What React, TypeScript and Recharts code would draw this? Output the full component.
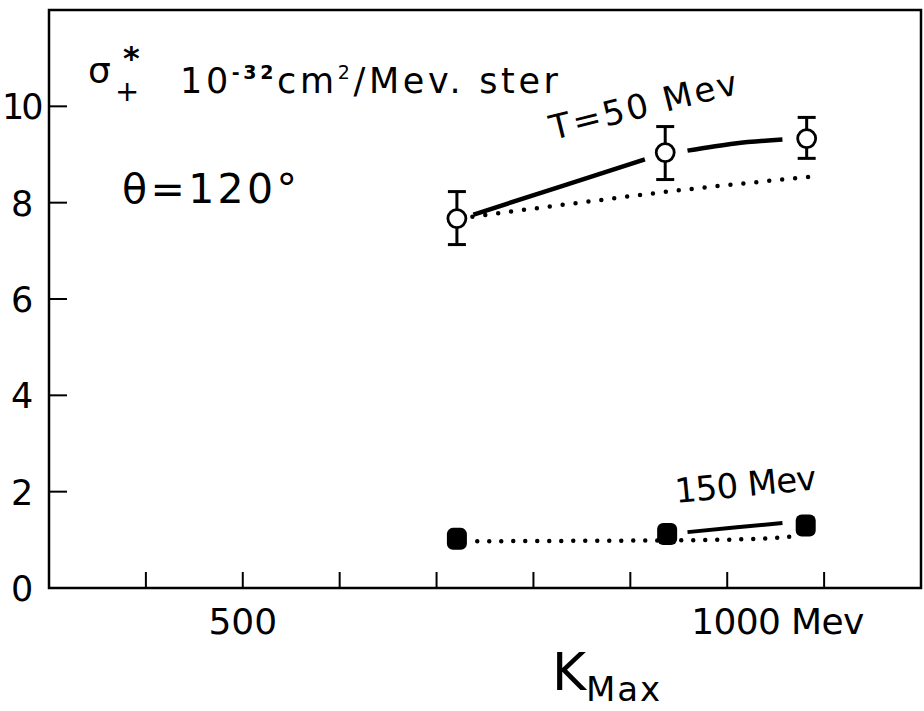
import {
  ComposedChart,
  Customized,
  ErrorBar,
  Line,
  ReferenceArea,
  Scatter,
  XAxis,
  YAxis,
} from "recharts";

// K_max (MeV) / sigma (10^-32 cm^2/MeV ster)
const OPEN_K = [721, 936, 1082];
const OPEN_SIGMA = [7.67, 9.04, 9.33];
const OPEN_ERR_DOWN = [0.54, 0.56, 0.41];
const OPEN_ERR_UP = [0.56, 0.54, 0.44];

const FILLED_K = [721, 938, 1081];
const FILLED_SIGMA = [1.02, 1.12, 1.3];

// T = 50 MeV curves
const T50_SOLID_A_K = [738, 827, 915];
const T50_SOLID_A_SIGMA = [7.75, 8.33, 8.9];
const T50_SOLID_B_K = [959, 1008, 1057];
const T50_SOLID_B_SIGMA = [9.08, 9.23, 9.31];
const T50_DOTTED_K = [737, 840, 939, 1088];
const T50_DOTTED_SIGMA = [7.71, 7.98, 8.23, 8.54];

// T = 150 MeV curves
const T150_DOTTED_K = [742, 850, 950, 1030, 1075];
const T150_DOTTED_SIGMA = [0.97, 0.98, 0.99, 1.02, 1.08];
const T150_SOLID_K = [959, 1010, 1057];
const T150_SOLID_SIGMA = [1.16, 1.26, 1.35];

const X_TICKS = [400, 500, 600, 700, 800, 900, 1000, 1100];
const X_LABELS: Record<number, string> = { 500: "500", 1000: "1000 Mev" };
const Y_TICKS = [0, 2, 4, 6, 8, 10];

const FONT = "'DejaVu Sans', sans-serif";
const INK = "#000";

const toPoints = (ks: number[], ss: number[]) =>
  ks.map((k, i) => ({ k, s: ss[i] }));

const openPoints = OPEN_K.map((k, i) => ({
  k,
  s: OPEN_SIGMA[i],
  err: [OPEN_ERR_DOWN[i], OPEN_ERR_UP[i]],
}));
const filledPoints = toPoints(FILLED_K, FILLED_SIGMA);

function OpenCircle({ cx, cy }: { cx?: number; cy?: number }) {
  if (cx === undefined || cy === undefined) return null;
  return <circle cx={cx} cy={cy} r={9} fill="#fff" stroke={INK} strokeWidth={2.8} />;
}

function FilledDot({ cx, cy }: { cx?: number; cy?: number }) {
  if (cx === undefined || cy === undefined) return null;
  return <rect x={cx - 10} y={cy - 11} width={20} height={22} rx={6} fill={INK} />;
}

function XTick({ x, y, payload }: any) {
  const label = X_LABELS[payload?.value];
  return (
    <g>
      <line x1={x} y1={y} x2={x} y2={y - 16} stroke={INK} strokeWidth={2} />
      {label === "500" ? (
        <text x={x} y={y + 46} textAnchor="middle" fontSize={36} fontFamily={FONT} fill={INK}>
          {label}
        </text>
      ) : null}
      {label === "1000 Mev" ? (
        <text
          x={x - 36}
          y={y + 46}
          fontSize={36}
          fontFamily={FONT}
          fill={INK}
          textLength={173}
          lengthAdjust="spacing"
        >
          {label}
        </text>
      ) : null}
    </g>
  );
}

function YTick({ x, y, payload }: any) {
  const label = String(payload?.value);
  const wide = label.length > 1;
  return (
    <g>
      <line x1={x} y1={y} x2={x + 18} y2={y} stroke={INK} strokeWidth={2} />
      <text
        x={wide ? 2 : 11}
        y={y + 13}
        fontSize={35}
        fontFamily={FONT}
        fill={INK}
        letterSpacing={wide ? -3 : 0}
      >
        {label}
      </text>
    </g>
  );
}

function Annotations() {
  return (
    <g fill={INK} fontFamily={FONT}>
      <text x={88} y={83} fontSize={36}>σ</text>
      <text x={123} y={69} fontSize={32} fontWeight={700}>*</text>
      <text x={115} y={101} fontSize={29}>+</text>
      <text x={180} y={93} fontSize={35} textLength={378} lengthAdjust="spacing">
        10
        <tspan fontSize={19} fontWeight={700} dy={-14}>-32</tspan>
        <tspan dy={14}>cm</tspan>
        <tspan fontSize={19} dy={-14}>2</tspan>
        <tspan dy={14}>/Mev. ster</tspan>
      </text>
      <text x={122} y={203} fontSize={41} textLength={175} lengthAdjust="spacing">
        θ=120°
      </text>
      <text
        x={553}
        y={140}
        fontSize={34}
        transform="rotate(-14 553 140)"
        textLength={192}
        lengthAdjust="spacing"
      >
        T=50 Mev
      </text>
      <text
        x={676}
        y={503}
        fontSize={34}
        transform="rotate(-5.5 676 503)"
        textLength={142}
        lengthAdjust="spacing"
      >
        150 Mev
      </text>
      <text x={552} y={690} fontSize={52}>K</text>
      <text x={586} y={701} fontSize={34} textLength={74} lengthAdjust="spacing">
        Max
      </text>
    </g>
  );
}

export default function App() {
  return (
    <div
      style={{
        position: "absolute",
        left: 0,
        top: 0,
        width: 924,
        height: 711,
        background: "#fff",
      }}
    >
      <ComposedChart
        width={924}
        height={711}
        margin={{ top: 10, right: 3, left: 0, bottom: 0 }}
      >
        <XAxis
          dataKey="k"
          type="number"
          domain={[300, 1200]}
          ticks={X_TICKS}
          allowDataOverflow
          axisLine={false}
          tickLine={false}
          tickSize={0}
          tickMargin={0}
          height={123}
          interval={0}
          tick={<XTick />}
        />
        <YAxis
          type="number"
          domain={[0, 12]}
          ticks={Y_TICKS}
          allowDataOverflow
          axisLine={false}
          tickLine={false}
          tickSize={0}
          tickMargin={0}
          width={49}
          interval={0}
          tick={<YTick />}
        />
        <ReferenceArea
          x1={300}
          x2={1200}
          y1={0}
          y2={12}
          fill="none"
          fillOpacity={0}
          stroke={INK}
          strokeWidth={2.5}
        />
        <Line
          data={toPoints(T50_DOTTED_K, T50_DOTTED_SIGMA)}
          dataKey="s"
          type="monotone"
          stroke={INK}
          strokeWidth={4.5}
          strokeDasharray="0 13"
          strokeLinecap="round"
          dot={false}
          activeDot={false}
          isAnimationActive={false}
        />
        <Line
          data={toPoints(T50_SOLID_A_K, T50_SOLID_A_SIGMA)}
          dataKey="s"
          type="monotone"
          stroke={INK}
          strokeWidth={4.5}
          dot={false}
          activeDot={false}
          isAnimationActive={false}
        />
        <Line
          data={toPoints(T50_SOLID_B_K, T50_SOLID_B_SIGMA)}
          dataKey="s"
          type="monotone"
          stroke={INK}
          strokeWidth={4.5}
          dot={false}
          activeDot={false}
          isAnimationActive={false}
        />
        <Line
          data={toPoints(T150_DOTTED_K, T150_DOTTED_SIGMA)}
          dataKey="s"
          type="monotone"
          stroke={INK}
          strokeWidth={4.5}
          strokeDasharray="0 12"
          strokeLinecap="round"
          dot={false}
          activeDot={false}
          isAnimationActive={false}
        />
        <Line
          data={toPoints(T150_SOLID_K, T150_SOLID_SIGMA)}
          dataKey="s"
          type="monotone"
          stroke={INK}
          strokeWidth={4}
          dot={false}
          activeDot={false}
          isAnimationActive={false}
        />
        <Scatter
          data={openPoints}
          dataKey="s"
          shape={<OpenCircle />}
          isAnimationActive={false}
        >
          <ErrorBar dataKey="err" direction="y" width={9} strokeWidth={3} stroke={INK} />
        </Scatter>
        <Scatter
          data={filledPoints}
          dataKey="s"
          shape={<FilledDot />}
          isAnimationActive={false}
        />
        <Customized component={Annotations} />
      </ComposedChart>
    </div>
  );
}
